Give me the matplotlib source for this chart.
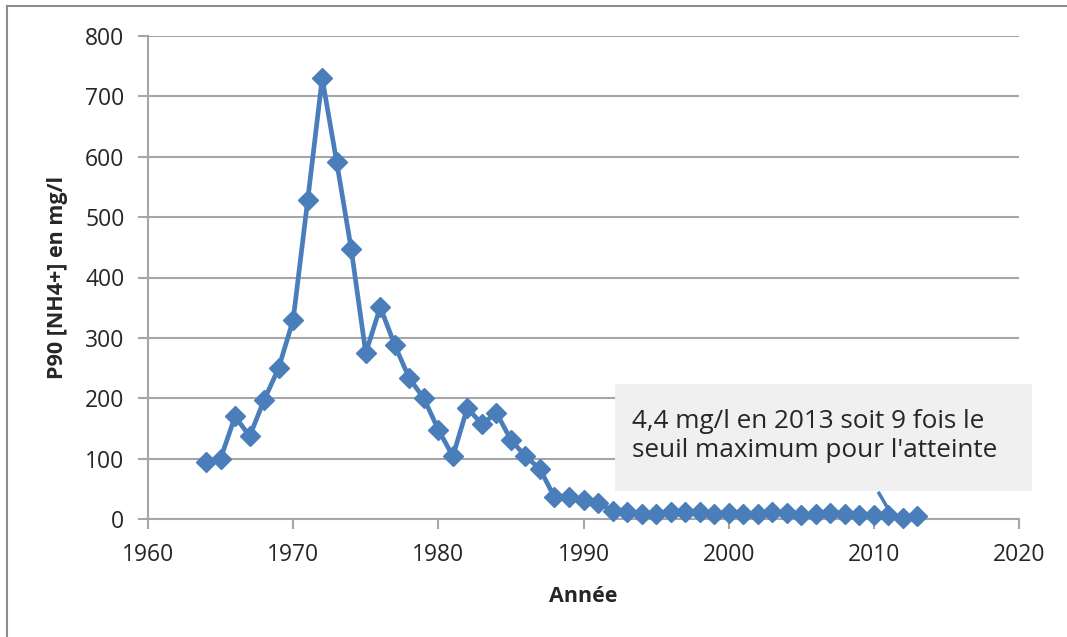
import matplotlib
matplotlib.use("Agg")
import matplotlib.pyplot as plt
from matplotlib.patches import Rectangle
from matplotlib.lines import Line2D

# P90 ammonium values (mg/l)
years = list(range(1964, 2014))
p90_nh4 = [95, 100, 170, 137, 197, 250, 330, 528, 730, 591,
           447, 275, 351, 288, 233, 200, 148, 104, 184, 157,
           176, 131, 104, 83, 36, 37, 31, 27, 14, 11,
           8, 9, 11, 12, 12, 9, 10, 8, 9, 12,
           10, 6, 8, 10, 9, 7, 7, 6, 2, 4.4]

x_ticks = [1960, 1970, 1980, 1990, 2000, 2010, 2020]
y_ticks = [0, 100, 200, 300, 400, 500, 600, 700, 800]

callout_text = "4,4 mg/l en 2013 soit 9 fois le\nseuil maximum pour l'atteinte"

FONT = "Open Sans"
BLUE = "#4a7ebb"
GRID = "#a6a6a6"
TEXT = "#262626"

W, H = 1067, 637
fig = plt.figure(figsize=(W / 100, H / 100), dpi=100)
ax = fig.add_axes([148 / W, 1 - 519 / H, (1019 - 148) / W, (519 - 36) / H])

ax.plot(years, p90_nh4, color=BLUE, lw=3.4, marker="D", ms=10.5,
        mec=BLUE, mfc=BLUE, zorder=3, clip_on=False)

ax.set_xlim(x_ticks[0], x_ticks[-1])
ax.set_ylim(y_ticks[0], y_ticks[-1])
ax.set_xticks(x_ticks)
ax.set_yticks(y_ticks)
ax.grid(axis="y", color=GRID, lw=1.5)
ax.set_axisbelow(True)

for side in ("top", "right"):
    ax.spines[side].set_visible(False)
for side in ("left", "bottom"):
    ax.spines[side].set_color(GRID)
    ax.spines[side].set_linewidth(1.5)

ax.tick_params(axis="both", direction="out", length=7, width=1.5,
               color=GRID, labelcolor=TEXT, labelsize=16.5)
ax.tick_params(axis="y", pad=10)
ax.tick_params(axis="x", pad=10)
for lab in ax.get_xticklabels() + ax.get_yticklabels():
    lab.set_fontfamily(FONT)

ax.set_xlabel("Année", fontfamily=FONT, fontsize=15.5, fontweight="bold",
              color=TEXT, labelpad=14)
ax.set_ylabel("P90 [NH4+] en mg/l", fontfamily=FONT, fontsize=15.5,
              fontweight="bold", color=TEXT, labelpad=12)

# callout box with its pointer
ax.plot([2010.3, 2011.1], [45, 12], color=BLUE, lw=2.5, zorder=4,
        solid_capstyle="butt")
box = Rectangle((0.536, 0.058), 0.479, 0.2215, transform=ax.transAxes,
                facecolor="#f0f0f0", edgecolor="none", zorder=5, clip_on=False)
ax.add_patch(box)
ax.text(0.556, 0.172, callout_text, transform=ax.transAxes, ha="left",
        va="center", fontfamily=FONT, fontsize=18.8, color=TEXT,
        linespacing=1.2, zorder=6)

# outer chart frame (left and top edges visible)
fig.add_artist(Line2D([7 / W, 7 / W], [0, 1 - 6 / H], transform=fig.transFigure,
                      color="#8c8c8c", lw=1.5))
fig.add_artist(Line2D([7 / W, 1], [1 - 6 / H, 1 - 6 / H],
                      transform=fig.transFigure, color="#8c8c8c", lw=1.5))

fig.savefig("out.png", dpi=100, facecolor="white")
